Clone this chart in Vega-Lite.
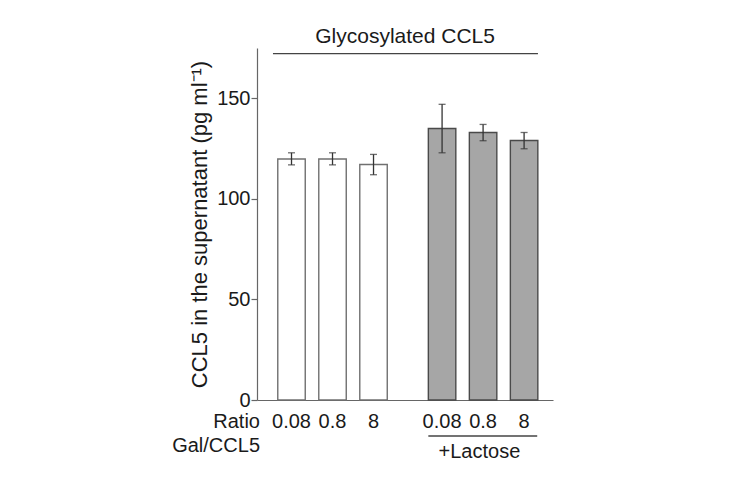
{
  "$schema": "https://vega.github.io/schema/vega-lite/v6.json",
  "width": 296,
  "height": 352,
  "autosize": "none",
  "padding": {"left": 257, "top": 48, "right": 177, "bottom": 78},
  "background": "white",
  "config": {"view": {"stroke": null}, "font": "Liberation Sans"},
  "datasets": {
    "bars": [
      {"treatment": "none", "ratio": "0.08", "mean": 119.8, "lo": 116.9, "hi": 122.9},
      {"treatment": "none", "ratio": "0.8", "mean": 119.8, "lo": 116.9, "hi": 122.9},
      {"treatment": "none", "ratio": "8", "mean": 117.1, "lo": 112.0, "hi": 122.1},
      {"treatment": "lactose", "ratio": "0.08", "mean": 135.0, "lo": 122.9, "hi": 147.0},
      {"treatment": "lactose", "ratio": "0.8", "mean": 133.0, "lo": 128.9, "hi": 137.0},
      {"treatment": "lactose", "ratio": "8", "mean": 129.0, "lo": 124.9, "hi": 133.0}
    ],
    "one": [{"a": 1}]
  },
  "data": {"name": "bars"},
  "layer": [
    {
      "mark": {"type": "bar", "strokeWidth": 1.4},
      "encoding": {
        "x": {"field": "treatment", "type": "nominal", "scale": {"domain": ["none", "lactose"], "paddingInner": 0.183, "paddingOuter": 0.0744, "align": 0.625}, "axis": {"title": null, "labels": false, "ticks": false, "domainColor": "#666666", "domainWidth": 1.2}},
        "xOffset": {"field": "ratio", "type": "nominal", "scale": {"domain": ["0.08", "0.8", "8"], "paddingInner": 0.33, "paddingOuter": 0.165}},
        "y": {"field": "mean", "type": "quantitative", "scale": {"domain": [0, 175], "nice": false}, "axis": {"title": "CCL5 in the supernatant (pg ml⁻¹)", "values": [0, 50, 100, 150], "grid": false, "tickSize": 6, "tickColor": "#666666", "domainColor": "#666666", "domainWidth": 1.2, "tickWidth": 1.2, "labelFontSize": 20, "labelColor": "#1a1a1a", "labelPadding": 1, "titleFontSize": 22, "titleFontWeight": "normal", "titleColor": "#1a1a1a", "titlePadding": 5}},
        "fill": {"field": "treatment", "type": "nominal", "scale": {"domain": ["none", "lactose"], "range": ["#ffffff", "#a6a6a6"]}, "legend": null},
        "stroke": {"field": "treatment", "type": "nominal", "scale": {"domain": ["none", "lactose"], "range": ["#707070", "#4a4a4a"]}, "legend": null}
      }
    },
    {
      "mark": {"type": "rule", "color": "#333333", "strokeWidth": 1.3},
      "encoding": {
        "x": {"field": "treatment", "type": "nominal"},
        "xOffset": {"field": "ratio", "type": "nominal"},
        "y": {"field": "lo", "type": "quantitative"},
        "y2": {"field": "hi"}
      }
    },
    {
      "mark": {"type": "tick", "orient": "horizontal", "color": "#333333", "size": 7, "thickness": 1.3},
      "encoding": {
        "x": {"field": "treatment", "type": "nominal"},
        "xOffset": {"field": "ratio", "type": "nominal"},
        "y": {"field": "lo", "type": "quantitative"}
      }
    },
    {
      "mark": {"type": "tick", "orient": "horizontal", "color": "#333333", "size": 7, "thickness": 1.3},
      "encoding": {
        "x": {"field": "treatment", "type": "nominal"},
        "xOffset": {"field": "ratio", "type": "nominal"},
        "y": {"field": "hi", "type": "quantitative"}
      }
    },
    {
      "mark": {"type": "text", "fontSize": 20, "color": "#1a1a1a", "baseline": "alphabetic", "align": "center"},
      "encoding": {
        "x": {"field": "treatment", "type": "nominal"},
        "xOffset": {"field": "ratio", "type": "nominal"},
        "y": {"datum": -14},
        "text": {"field": "ratio"}
      }
    },
    {
      "data": {"name": "one"},
      "mark": {"type": "text", "text": "Ratio", "fontSize": 20, "color": "#1a1a1a", "baseline": "alphabetic", "align": "right", "dx": -11},
      "encoding": {"x": {"datum": "none", "bandPosition": 0}, "y": {"datum": -14}}
    },
    {
      "data": {"name": "one"},
      "mark": {"type": "text", "text": "Gal/CCL5", "fontSize": 20, "color": "#1a1a1a", "baseline": "alphabetic", "align": "right", "dx": -11},
      "encoding": {"x": {"datum": "none", "bandPosition": 0}, "y": {"datum": -26}}
    },
    {
      "data": {"name": "one"},
      "mark": {"type": "text", "text": "+Lactose", "fontSize": 20, "color": "#1a1a1a", "baseline": "alphabetic", "align": "center"},
      "encoding": {"x": {"datum": "lactose", "bandPosition": 0.47}, "y": {"datum": -29}}
    },
    {
      "data": {"name": "one"},
      "mark": {"type": "text", "text": "Glycosylated CCL5", "fontSize": 21, "color": "#1a1a1a", "baseline": "alphabetic", "align": "center"},
      "encoding": {"x": {"datum": "none", "bandPosition": 1.09}, "y": {"datum": 177.3}}
    },
    {
      "data": {"name": "one"},
      "mark": {"type": "rule", "color": "#444444", "strokeWidth": 1.3},
      "encoding": {"x": {"datum": "lactose", "bandPosition": 0.055}, "x2": {"datum": "lactose", "bandPosition": 0.94}, "y": {"datum": -17.9}}
    },
    {
      "data": {"name": "one"},
      "mark": {"type": "rule", "color": "#444444", "strokeWidth": 1.3},
      "encoding": {"x": {"datum": "none", "bandPosition": 0.016}, "x2": {"datum": "lactose", "bandPosition": 0.946}, "y": {"datum": 172.2}}
    }
  ]
}
